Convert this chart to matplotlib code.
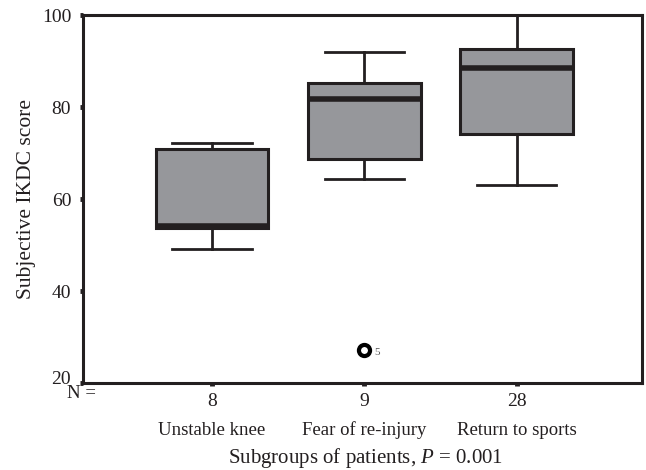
import matplotlib
matplotlib.use("Agg")
import matplotlib.pyplot as plt
from matplotlib.transforms import ScaledTranslation

plt.rcParams["font.family"] = "Liberation Serif"
plt.rcParams["mathtext.fontset"] = "custom"
plt.rcParams["mathtext.rm"] = "Liberation Serif"
plt.rcParams["mathtext.it"] = "Liberation Serif:italic"

# Boxplot summary
groups = ["Unstable knee", "Fear of re-injury", "Return to sports"]
n_counts = ["8", "9", "28"]
whisker_lo = [49.1, 64.3, 63.0]
q1 = [53.7, 68.7, 74.1]
median = [54.2, 81.7, 88.5]
q3 = [70.9, 85.2, 92.6]
whisker_hi = [72.2, 92.0, 100.0]
outliers = [[], [27.2], []]
outlier_ids = [[], ["5"], []]

ink = "#231f20"
fill = "#96979b"

stats = []
for i in range(len(groups)):
    stats.append({
        "whislo": whisker_lo[i], "q1": q1[i], "med": median[i],
        "q3": q3[i], "whishi": whisker_hi[i], "fliers": outliers[i],
    })

fig = plt.figure(figsize=(6.46, 4.70), dpi=100)
ax = fig.add_axes([0.1285, 0.185, 0.865, 0.783])

ax.bxp(
    stats, positions=[1, 2, 3], widths=0.74, patch_artist=True,
    showfliers=True,
    boxprops=dict(facecolor=fill, edgecolor=ink, linewidth=2.2),
    medianprops=dict(color=ink, linewidth=4.0, solid_capstyle="butt"),
    whiskerprops=dict(color=ink, linewidth=2.0),
    capprops=dict(color=ink, linewidth=2.0),
    capwidths=0.52,
    flierprops=dict(marker="o", markersize=8, markerfacecolor="white",
                    markeredgecolor="black", markeredgewidth=3),
)

for i, vals in enumerate(outliers):
    for v, lab in zip(vals, outlier_ids[i]):
        ax.annotate(lab, (i + 1, v), xytext=(7, -4), textcoords="offset points",
                    fontsize=8, color="#555555")

ax.set_xlim(0.154, 3.82)
ax.set_ylim(20, 100)
ax.set_yticks([20, 40, 60, 80, 100])
ax.set_xticks([1, 2, 3], labels=n_counts)

for s in ax.spines.values():
    s.set_linewidth(2.2)
    s.set_color(ink)

ax.tick_params(axis="both", direction="out", length=2.5, width=3.5, color=ink,
               labelsize=14, labelcolor=ink)
ax.tick_params(axis="x", pad=5)
ax.tick_params(axis="y", pad=6)

# the lowest y label sits a little above its tick
lab20 = ax.get_yticklabels()[0]
lab20.set_transform(lab20.get_transform() + ScaledTranslation(0, 4 / 72, fig.dpi_scale_trans))

for i, g in enumerate(groups):
    ax.text(i + 1, -0.128, g, transform=ax.get_xaxis_transform(),
            ha="center", va="center", fontsize=13.5, color=ink)
ax.text(-0.003, -0.029, "N =", transform=ax.transAxes, ha="center", va="center",
        fontsize=13.5, color=ink)

ax.set_ylabel("Subjective IKDC score", fontsize=15.5, color=ink, labelpad=4)
fig.text(366 / 646, 12 / 470, "Subgroups of patients, $P$ = 0.001", fontsize=15,
         color=ink, ha="center", va="center")

fig.savefig("out.png", dpi=100)
